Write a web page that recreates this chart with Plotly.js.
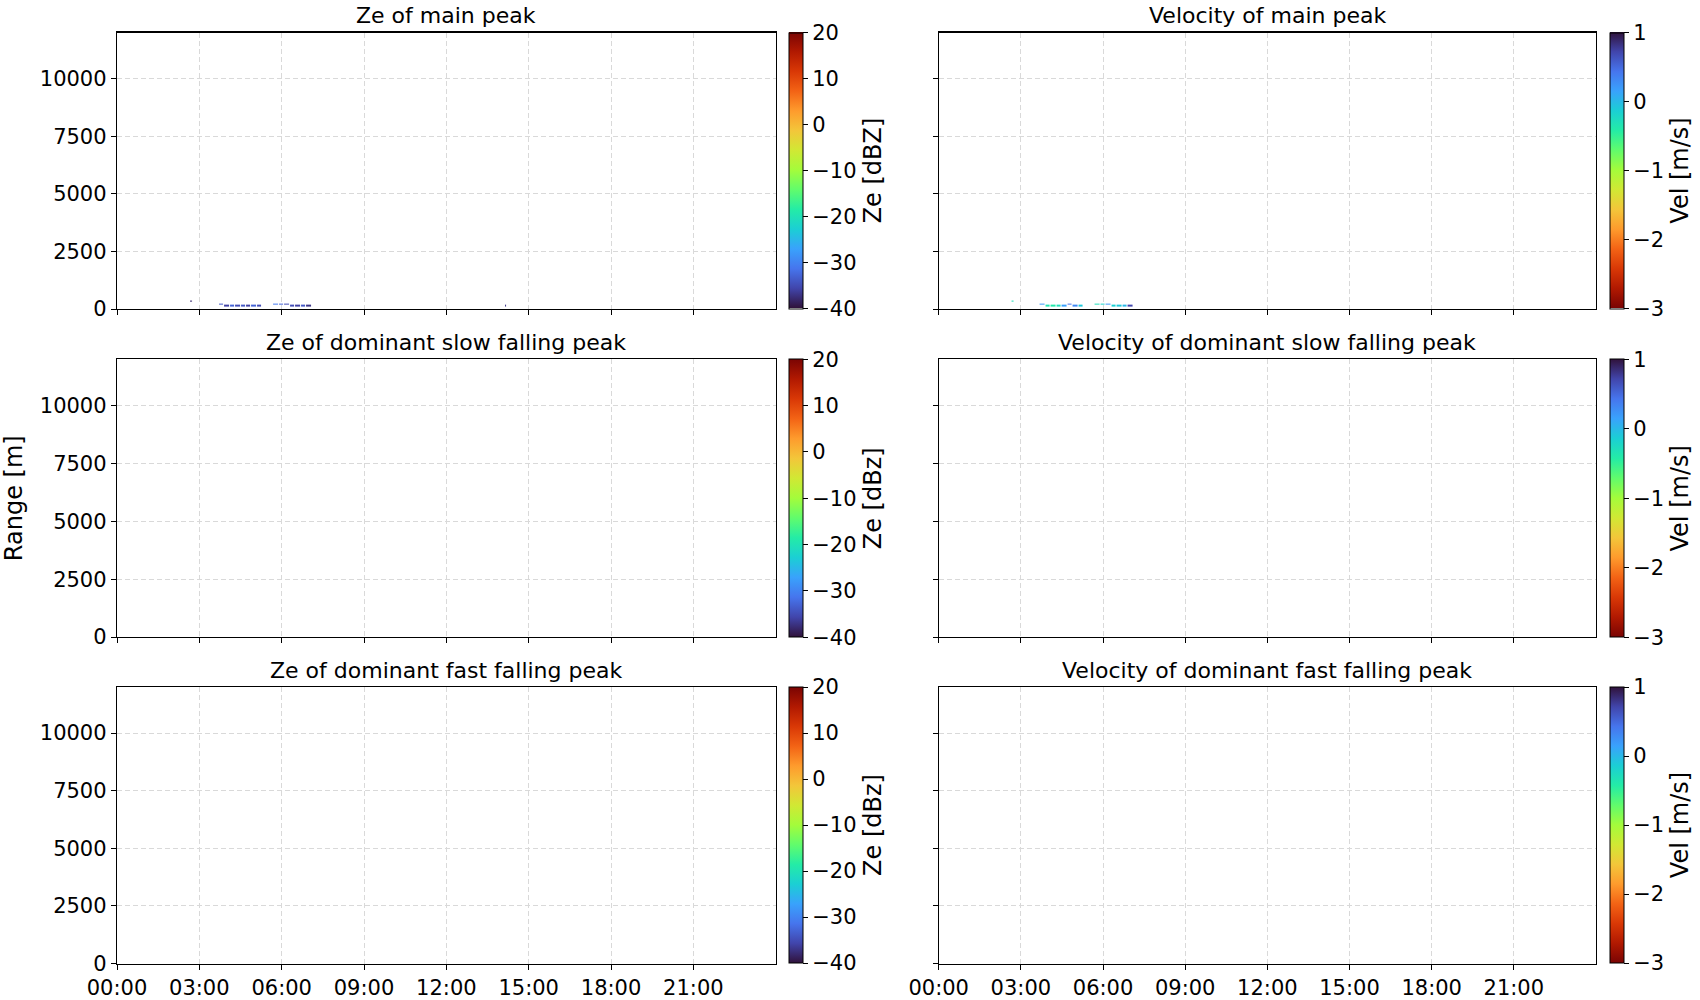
<!DOCTYPE html>
<html>
<head>
<meta charset="utf-8">
<script src="https://cdn.plot.ly/plotly-3.0.1.min.js"></script>
<style>html,body{margin:0;padding:0;background:#fff;}#chart{width:1700px;height:1000px;}</style>
</head>
<body>
<div id="chart"></div>
<script>
// ---------- data ----------
const panelTitles = [
  "Ze of main peak", "Velocity of main peak",
  "Ze of dominant slow falling peak", "Velocity of dominant slow falling peak",
  "Ze of dominant fast falling peak", "Velocity of dominant fast falling peak"
];
const colorbarTitles = ["Ze [dBZ]", "Vel [m/s]", "Ze [dBz]", "Vel [m/s]", "Ze [dBz]", "Vel [m/s]"];
const xTickVals = [0, 3, 6, 9, 12, 15, 18, 21];
const xTickLabels = ["00:00", "03:00", "06:00", "09:00", "12:00", "15:00", "18:00", "21:00"];
const yTickVals = [0, 2500, 5000, 7500, 10000];
const yTickLabels = ["0", "2500", "5000", "7500", "10000"];
const zeTickVals = [-40, -30, -20, -10, 0, 10, 20];
const velTickVals = [-3, -2, -1, 0, 1];

// time bin edges [h] and range gate edges [m]
const timeEdges = [2.66, 2.76, 3.7, 3.9, 4.1, 4.3, 4.5, 4.7, 4.9, 5.1, 5.3, 5.7, 5.9, 6.1, 6.3, 6.5, 6.7, 6.9, 7.1, 14.12, 14.22];
const rangeEdges = [115, 175, 235, 305, 365];

// Ze of main peak [dBZ], one row per range gate
const zeMainRow145 = [null, null, null, -36, -33, -35, -34, -36, -33, -35, null, null, null, null, -35, -36, -34, -37, null, -37];
const zeMainRow205 = [null, null, -34, null, null, null, null, null, null, null, null, -31, -33, -35, null, null, null, null, null, null];
const zeMainRow270 = [null, null, null, null, null, null, null, null, null, null, null, null, null, null, null, null, null, null, null, null];
const zeMainRow335 = [-38, null, null, null, null, null, null, null, null, null, null, null, null, null, null, null, null, null, null, null];

// Velocity of main peak [m/s]
const velMainRow145 = [null, null, null, -0.35, -0.4, -0.3, 0.15, null, 0.3, -0.1, null, null, null, null, -0.15, -0.1, 0.0, 0.7, null, null];
const velMainRow205 = [null, null, 0.2, null, null, null, null, 0.45, null, null, null, -0.3, -0.2, 0.2, null, null, null, null, null, null];
const velMainRow270 = [null, null, null, null, null, null, null, null, null, null, null, null, null, null, null, null, null, null, null, null];
const velMainRow335 = [-0.3, null, null, null, null, null, null, null, null, null, null, null, null, null, null, null, null, null, null, null];

// matplotlib "turbo" colormap samples
const turbo = ["#30123b", "#4145ab", "#4675ed", "#39a2fc", "#1bcfd4", "#24eca6", "#61fc6c", "#a4fc3b",
               "#d1e834", "#f3c63a", "#fe9b2d", "#f36315", "#d93806", "#b11901", "#7a0403"];

// ---------- layout geometry ----------
const W = 1700, H = 1000;
const colX = [[117, 775.7], [938.7, 1596]];
const rowY = [[32.5, 309], [359.3, 637], [687, 963.5]];
const cbX = [789, 1610];
const font = "DejaVu Sans, Liberation Sans, Arial, sans-serif";
const FS = 21;
const GRID = {showgrid: true, gridcolor: "#d9d9d9", gridwidth: 1, griddash: "5px,3px"};

const colorscale = turbo.map((c, i) => [i / (turbo.length - 1), c]);

const zData = [
  [zeMainRow145, zeMainRow205, zeMainRow270, zeMainRow335],
  [velMainRow145, velMainRow205, velMainRow270, velMainRow335],
  null, null, null, null
];

const traces = [];
const layout = {
  width: W, height: H,
  margin: {l: 0, r: 0, t: 0, b: 0},
  paper_bgcolor: "#fff", plot_bgcolor: "#fff",
  font: {family: font, size: FS, color: "#000"},
  showlegend: false,
  annotations: []
};

for (let p = 0; p < 6; p++) {
  const r = Math.floor(p / 2), c = p % 2;
  const isZe = c === 0;
  const ticks = isZe ? zeTickVals : velTickVals;
  const ax = p === 0 ? "" : String(p + 1);
  const xd = [colX[c][0] / W, colX[c][1] / W];
  const yd = [1 - rowY[r][1] / H, 1 - rowY[r][0] / H];
  layout["xaxis" + ax] = Object.assign({
    domain: xd, anchor: "y" + ax, range: [0, 24],
    tickmode: "array", tickvals: xTickVals, ticktext: xTickLabels,
    showticklabels: r === 2,
    ticks: "outside", ticklen: 5, tickwidth: 1, tickcolor: "#000",
    showline: true, mirror: true, linecolor: "#000", linewidth: 1.2,
    zeroline: false, tickfont: {family: font, size: FS, color: "#000"}
  }, GRID);
  layout["yaxis" + ax] = Object.assign({
    domain: yd, anchor: "x" + ax, range: [0, 12000],
    tickmode: "array", tickvals: yTickVals, ticktext: yTickLabels,
    showticklabels: c === 0,
    ticks: "outside", ticklen: 5, tickwidth: 1, tickcolor: "#000",
    showline: true, mirror: true, linecolor: "#000", linewidth: 1.2,
    zeroline: false, tickfont: {family: font, size: FS, color: "#000"}
  }, GRID);
  const cb = {
    x: cbX[c] / W, xanchor: "left", xpad: 0, ypad: 0,
    y: yd[1], yanchor: "top", len: yd[1] - yd[0], lenmode: "fraction",
    thickness: 14, outlinewidth: 1, outlinecolor: "#000",
    tickmode: "array", tickvals: ticks,
    ticks: "outside", ticklen: 5, tickwidth: 1, tickcolor: "#000",
    tickfont: {family: font, size: FS, color: "#000"},
    title: {text: colorbarTitles[p], side: "right", font: {family: font, size: 24, color: "#000"}}
  };
  const common = {
    xaxis: "x" + ax, yaxis: "y" + ax,
    colorscale: colorscale, reversescale: !isZe,
    zmin: ticks[0], zmax: ticks[ticks.length - 1],
    showscale: true, colorbar: cb, hoverinfo: "skip"
  };
  const z = zData[p];
  if (z) {
    traces.push(Object.assign({type: "heatmap", x: timeEdges, y: rangeEdges, z: z, xgap: 1}, common));
  } else {
    // panel without echoes: invisible helper carrying only the colour scale
    traces.push(Object.assign({type: "heatmap", z: [[ticks[0], ticks[ticks.length - 1]]], opacity: 0}, common));
  }
  layout.annotations.push({
    text: panelTitles[p], xref: "paper", yref: "paper",
    x: (xd[0] + xd[1]) / 2, y: yd[1], xanchor: "center", yanchor: "bottom",
    yshift: 2, showarrow: false, font: {family: font, size: 22, color: "#000"}
  });
}

layout.annotations.push({
  text: "Range [m]", xref: "paper", yref: "paper",
  x: 14 / W, y: 1 - ((rowY[1][0] + rowY[1][1]) / 2) / H, xanchor: "center", yanchor: "middle",
  textangle: -90, showarrow: false, font: {family: font, size: 24, color: "#000"}
});

Plotly.newPlot("chart", traces, layout, {staticPlot: true, displayModeBar: false});
</script>
</body>
</html>
